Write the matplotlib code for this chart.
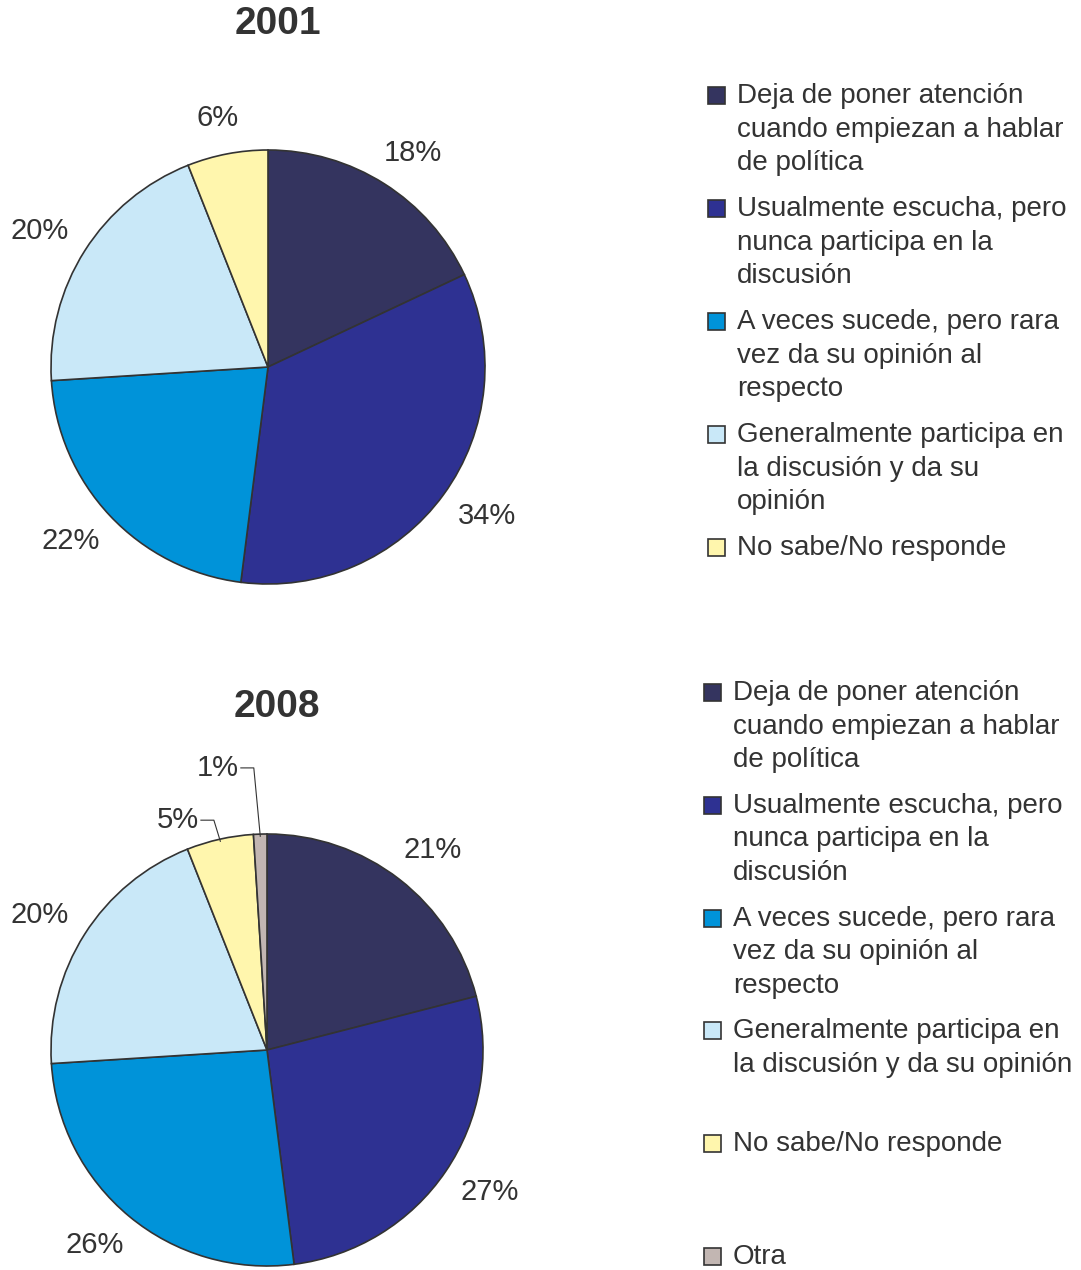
import numpy as np
import matplotlib
matplotlib.use("Agg")
import matplotlib.pyplot as plt
from matplotlib.patches import Rectangle

plt.rcParams['font.family'] = ['Liberation Sans', 'DejaVu Sans']

# ======================================================================
# Data
# ======================================================================
years = ["2001", "2008"]

values_2001 = [18, 34, 22, 20, 6]
values_2008 = [21, 27, 26, 20, 5, 1]

labels_2001 = ["Deja de poner atención\ncuando empiezan a hablar\nde política",
               "Usualmente escucha, pero\nnunca participa en la\ndiscusión",
               "A veces sucede, pero rara\nvez da su opinión al\nrespecto",
               "Generalmente participa en\nla discusión y da su\nopinión",
               "No sabe/No responde"]
labels_2008 = ["Deja de poner atención\ncuando empiezan a hablar\nde política",
               "Usualmente escucha, pero\nnunca participa en la\ndiscusión",
               "A veces sucede, pero rara\nvez da su opinión al\nrespecto",
               "Generalmente participa en\nla discusión y da su opinión",
               "No sabe/No responde",
               "Otra"]

colors = ["#34345f", "#2e3192", "#0093d9", "#c9e8f8", "#fff6ad", "#c2b6b2"]
txt_c = "#333333"
edge_c = "#333333"

W, H = 1081, 1270
fig = plt.figure(figsize=(W / 100, H / 100), dpi=100)


def px(x, y):
    return x / W, 1 - y / H


def draw_pie(cx, cy, r, vals, title, title_y, leaders):
    ax = fig.add_axes([(cx - r) / W, 1 - (cy + r) / H, 2 * r / W, 2 * r / H])
    ax.pie(vals, colors=colors[:len(vals)], startangle=90, counterclock=False,
           radius=1, wedgeprops=dict(edgecolor=edge_c, linewidth=1.2))
    ax.set_xlim(-1, 1)
    ax.set_ylim(-1, 1)
    ax.set_aspect('equal')
    ax.axis('off')
    fig.text(*px(cx + 10, title_y), title, fontsize=28, fontweight='bold',
             color=txt_c, ha='center', va='center')
    total = float(sum(vals))
    cum = np.cumsum([0] + list(vals))
    # label half extents in axes units (approx)
    hw, hh = 30.0 / r, 13.0 / r
    for i, v in enumerate(vals):
        mid = np.deg2rad(90 - (cum[i] + v / 2) / total * 360)
        lab = f"{v}%"
        if i in leaders:
            h = leaders[i]
            ex, ey = np.cos(mid) * 0.99, np.sin(mid) * 0.99
            kx, ky = ex - 0.03, h
            lx = kx - 0.06
            ax.plot([ex, kx, lx], [ey, ky, ky], color=txt_c, lw=0.8, clip_on=False)
            ax.text(lx - 0.01, ky, lab, fontsize=21, color=txt_c,
                    ha='right', va='center')
        else:
            c, s = np.cos(mid), np.sin(mid)
            tx = 1.11 * c + hw * c
            ty = 1.11 * s + hh * s
            ax.text(tx, ty, lab, fontsize=21, color=txt_c,
                    ha='center', va='center')
    return ax


def draw_legend(x, y0, step, labels):
    for i, lab in enumerate(labels):
        y = y0 + i * step
        fx, fy = px(x, y + 9)
        fig.patches.append(Rectangle((fx, fy), 17 / W, 17 / H, transform=fig.transFigure,
                                     facecolor=colors[i], edgecolor=edge_c, lw=1.2))
        fig.text(*px(x + 29, y - 12), lab, fontsize=20, color=txt_c,
                 ha='left', va='top', linespacing=1.38)


draw_pie(268, 367, 217, values_2001, years[0], 24, {})
draw_pie(267, 1050, 216, values_2008, years[1], 707, {4: 1.064, 5: 1.306})

draw_legend(708, 95, 113, labels_2001)
draw_legend(704, 692, 112.8, labels_2008)

plt.savefig("out.png", dpi=100)
